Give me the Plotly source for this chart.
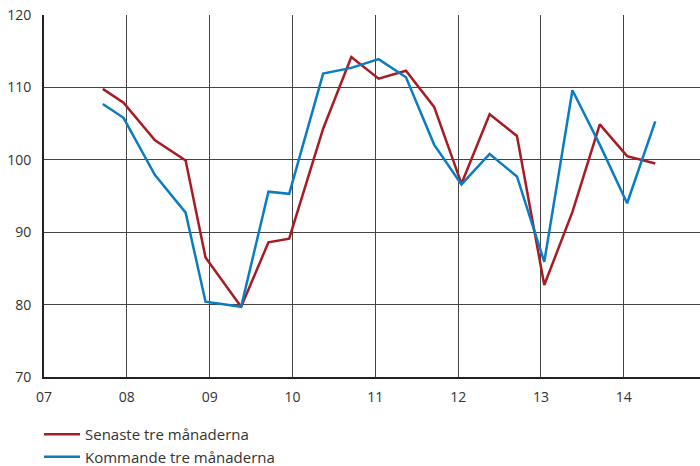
import plotly.graph_objects as go

x_pos = [2007.71, 2007.96, 2008.34, 2008.71, 2008.95, 2009.38, 2009.71, 2009.96,
         2010.37, 2010.71, 2011.04, 2011.37, 2011.71, 2012.04, 2012.38, 2012.71,
         2013.04, 2013.38, 2013.71, 2014.04, 2014.38]
senaste = [109.8, 107.9, 102.7, 99.9, 86.5, 79.7, 88.6, 89.1, 104.3, 114.2, 111.2,
           112.3, 107.3, 96.7, 106.3, 103.3, 82.7, 92.8, 104.9, 100.5, 99.5]
kommande = [107.7, 105.8, 97.9, 92.7, 80.4, 79.7, 95.6, 95.3, 111.9, 112.7, 113.9,
            111.4, 102.1, 96.6, 100.8, 97.7, 85.9, 109.6, 102.1, 94.0, 105.3]
year_ticks = [2007, 2008, 2009, 2010, 2011, 2012, 2013, 2014]
year_labels = ["07", "08", "09", "10", "11", "12", "13", "14"]
y_ticks = [70, 80, 90, 100, 110, 120]

fig = go.Figure()
fig.add_trace(go.Scatter(x=x_pos, y=senaste, mode="lines", name="Senaste tre månaderna",
                         line=dict(color="#A71C24", width=2.5)))
fig.add_trace(go.Scatter(x=x_pos, y=kommande, mode="lines", name="Kommande tre månaderna",
                         line=dict(color="#0A7DC2", width=2.5)))

fig.update_layout(
    width=700, height=466,
    margin=dict(l=44, r=0, t=15, b=89, autoexpand=False),
    paper_bgcolor="white", plot_bgcolor="white",
    font=dict(family="Open Sans", size=14, color="#333333"),
    showlegend=True,
    legend=dict(orientation="v", x=39 / 700, y=1 - 418 / 466, xref="container", yref="container",
                xanchor="left", yanchor="top", itemwidth=36,
                font=dict(size=15, color="#333333"), bgcolor="rgba(0,0,0,0)",
                tracegroupgap=0, borderwidth=0),
    xaxis=dict(range=[2007, 2014.92], tickvals=year_ticks, ticktext=year_labels,
               showgrid=True, gridcolor="#444444", gridwidth=1, zeroline=False,
               showline=True, linecolor="#222222", linewidth=1.5, automargin=False,
               ticks="", ticklabelstandoff=6, tickfont=dict(size=14, color="#333333")),
    yaxis=dict(range=[70, 120], tickvals=y_ticks, showgrid=True, gridcolor="#444444",
               gridwidth=1, zeroline=False, showline=True, linecolor="#222222",
               linewidth=2, ticks="", ticklabelstandoff=8, automargin=False,
               tickfont=dict(size=14, color="#333333")),
)
fig.write_html("out.html", config={"displayModeBar": False},
               post_script="document.body.style.margin='0';document.body.style.overflow='hidden';")
